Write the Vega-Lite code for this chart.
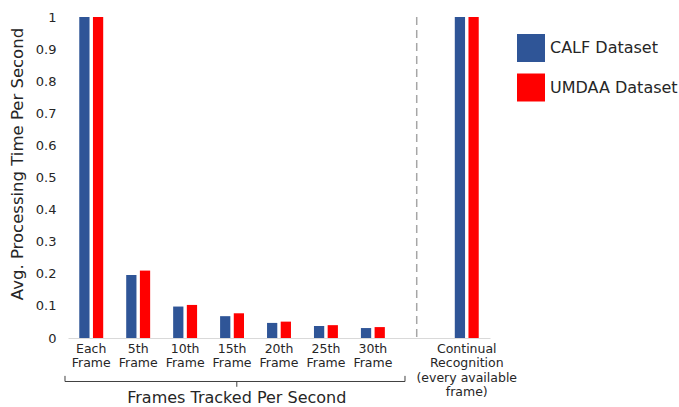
{
  "$schema": "https://vega.github.io/schema/vega-lite/v6.json",
  "width": 422,
  "height": 321,
  "autosize": "none",
  "padding": {"left": 68, "top": 17, "right": 189, "bottom": 69},
  "background": "white",
  "config": {"view": {"stroke": null}, "font": "DejaVu Sans", "text": {"font": "DejaVu Sans"}},
  "datasets": {
    "bars": [
      {"frames": "Each Frame", "dataset": "CALF Dataset", "time": 1.0},
      {"frames": "Each Frame", "dataset": "UMDAA Dataset", "time": 1.0},
      {"frames": "5th Frame", "dataset": "CALF Dataset", "time": 0.196},
      {"frames": "5th Frame", "dataset": "UMDAA Dataset", "time": 0.21},
      {"frames": "10th Frame", "dataset": "CALF Dataset", "time": 0.098},
      {"frames": "10th Frame", "dataset": "UMDAA Dataset", "time": 0.103},
      {"frames": "15th Frame", "dataset": "CALF Dataset", "time": 0.068},
      {"frames": "15th Frame", "dataset": "UMDAA Dataset", "time": 0.077},
      {"frames": "20th Frame", "dataset": "CALF Dataset", "time": 0.047},
      {"frames": "20th Frame", "dataset": "UMDAA Dataset", "time": 0.051},
      {"frames": "25th Frame", "dataset": "CALF Dataset", "time": 0.037},
      {"frames": "25th Frame", "dataset": "UMDAA Dataset", "time": 0.04},
      {"frames": "30th Frame", "dataset": "CALF Dataset", "time": 0.031},
      {"frames": "30th Frame", "dataset": "UMDAA Dataset", "time": 0.034},
      {"frames": "Continual Recognition (every available frame)", "dataset": "CALF Dataset", "time": 1.0},
      {"frames": "Continual Recognition (every available frame)", "dataset": "UMDAA Dataset", "time": 1.0}
    ],
    "bracket": [
      {"x": -0.064, "x2": 7.187, "y": -0.1355, "y2": -0.1355},
      {"x": -0.064, "x2": -0.064, "y": -0.118, "y2": -0.1355},
      {"x": 7.187, "x2": 7.187, "y": -0.118, "y2": -0.1355},
      {"x": 3.6, "x2": 3.6, "y": -0.1355, "y2": -0.152}
    ],
    "divider": [{"x": 7.437}],
    "groupTitle": [{"x": 3.6, "y": -0.2025, "label": "Frames Tracked Per Second"}]
  },
  "layer": [
    {
      "data": {"name": "bars"},
      "mark": {"type": "bar"},
      "encoding": {
        "x": {
          "field": "frames",
          "type": "nominal",
          "sort": null,
          "scale": {
            "domain": ["Each Frame", "5th Frame", "10th Frame", "15th Frame", "20th Frame", "25th Frame", "30th Frame", "gap", "Continual Recognition (every available frame)"],
            "paddingInner": 0.49,
            "paddingOuter": 0.24
          },
          "axis": {
            "title": null,
            "labelAngle": 0,
            "ticks": false,
            "domainColor": "#d9d9d9",
            "domainWidth": 1,
            "labelFontSize": 12.5,
            "labelLineHeight": 14.5,
            "labelPadding": 4,
            "labelColor": "#262626",
            "labelBaseline": "top",
            "labelLimit": 300,
            "labelExpr": "datum.value == 'gap' ? '' : (datum.value == 'Continual Recognition (every available frame)' ? ['Continual', 'Recognition', '(every available', 'frame)'] : split(datum.value, ' '))"
          }
        },
        "xOffset": {
          "field": "dataset",
          "type": "nominal",
          "scale": {"paddingInner": 0.25}
        },
        "y": {
          "field": "time",
          "type": "quantitative",
          "scale": {"domain": [0, 1], "nice": false},
          "axis": {
            "title": "Avg. Processing Time Per Second",
            "titleFontSize": 16.5,
            "titleFontWeight": "normal",
            "titleColor": "#262626",
            "titleX": -51,
            "titleY": 146.5,
            "titleBaseline": "middle",
            "titleAlign": "center",
            "values": [0, 0.1, 0.2, 0.3, 0.4, 0.5, 0.6, 0.7, 0.8, 0.9, 1],
            "format": ".1~f",
            "grid": false,
            "ticks": false,
            "domain": false,
            "labelFontSize": 13,
            "labelPadding": 12,
            "labelColor": "#262626"
          }
        },
        "color": {
          "field": "dataset",
          "type": "nominal",
          "scale": {"domain": ["CALF Dataset", "UMDAA Dataset"], "range": ["#2F5597", "#FF0000"]},
          "legend": {
            "title": null,
            "orient": "none",
            "legendX": 449,
            "legendY": 17,
            "symbolType": "square",
            "symbolSize": 784,
            "symbolStrokeWidth": 0,
            "labelFontSize": 16,
            "labelColor": "#262626",
            "labelOffset": 5,
            "rowPadding": 11.5,
            "padding": 0
          }
        }
      }
    },
    {
      "layer": [
        {
          "data": {"name": "bracket"},
          "mark": {"type": "rule", "color": "#404040", "strokeWidth": 1},
          "encoding": {
            "x": {"field": "x", "type": "quantitative", "scale": {"domain": [0, 9], "nice": false, "zero": false}, "axis": null},
            "x2": {"field": "x2"},
            "y": {"field": "y", "type": "quantitative", "scale": {"domain": [0, 1], "nice": false}, "axis": null},
            "y2": {"field": "y2"}
          }
        },
        {
          "data": {"name": "divider"},
          "mark": {"type": "rule", "color": "#a6a6a6", "strokeWidth": 1.5, "strokeDash": [8, 5]},
          "encoding": {
            "x": {"field": "x", "type": "quantitative", "scale": {"domain": [0, 9], "nice": false, "zero": false}, "axis": null}
          }
        },
        {
          "data": {"name": "groupTitle"},
          "mark": {"type": "text", "fontSize": 16, "color": "#262626", "baseline": "alphabetic", "align": "center"},
          "encoding": {
            "x": {"field": "x", "type": "quantitative", "scale": {"domain": [0, 9], "nice": false, "zero": false}, "axis": null},
            "y": {"field": "y", "type": "quantitative", "scale": {"domain": [0, 1], "nice": false}, "axis": null},
            "text": {"field": "label"}
          }
        }
      ]
    }
  ],
  "resolve": {"scale": {"x": "independent"}, "axis": {"y": "independent"}}
}
